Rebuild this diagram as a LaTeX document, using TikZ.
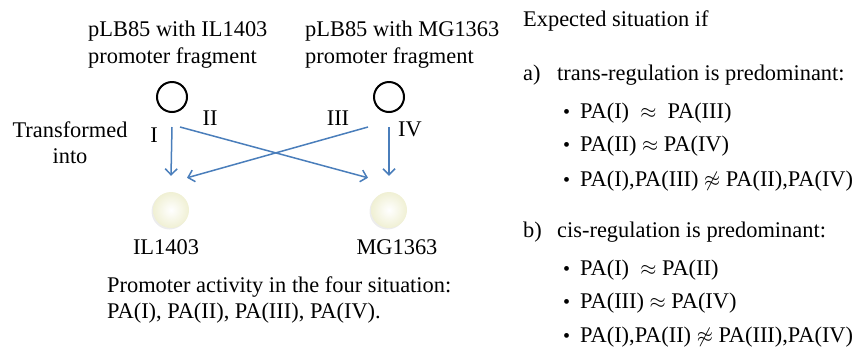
\documentclass[tikz,border=0pt]{standalone}
\usepackage{fontspec}
\setmainfont{Liberation Serif}
\usetikzlibrary{arrows.meta,positioning,shadows}
\definecolor{arrowblue}{RGB}{74,126,187}
\definecolor{cream}{RGB}{240,240,212}
\newcommand{\bul}{\makebox[17pt][l]{\fontsize{20}{20}\selectfont\textbullet}}
\tikzset{
	x=1pt, y=-1pt,% one unit is one pixel of the slide, y runs downwards
	textbox/.style={inner sep=0pt, anchor=base west, font=\fontsize{22.4}{26}\selectfont},
	numlabel/.style={textbox, anchor=base}
}

\begin{document}
\begin{tikzpicture}[
            plasmid/.style={circle, draw, line width=2pt, minimum size=30pt, inner sep=0pt},
            strain/.style={circle, minimum size=36pt, inner sep=0pt,
                inner color=white, outer color=cream,
                drop shadow={shadow xshift=-1.5pt, shadow yshift=-1.5pt, opacity=0.15}},
            blueedge/.style={line width=1.5pt, arrowblue, -{Straight Barb[length=6pt,width=12pt]}}
        ]
            \useasboundingbox (0,0) rectangle (861,349);
            % plasmids and strains
            \node[plasmid] (pIL) at (172,97) {};
            \node[plasmid] (pMG) at (389,97) {};
            \node[strain] (sIL) at (171,210) {};
            \node[strain] (sMG) at (389,210) {};
            \node[textbox] (hIL1) at (88,36) {pLB85 with IL1403};
            \node[textbox] (hIL2) at (88,63) {promoter fragment};
            \node[textbox] (hMG1) at (305,36) {pLB85 with MG1363};
            \node[textbox] (hMG2) at (305,63) {promoter fragment};
            \node[numlabel] (nIL) at (166,254) {IL1403};
            \node[numlabel] (nMG) at (397,254) {MG1363};
            \node[numlabel] (tr1) at (70,137) {Transformed};
            \node[numlabel] (tr2) at (70,163) {into};
            % the four transformations
            \path[blueedge]
                ([yshift=-14pt]pIL.south) edge ([yshift=16pt]sIL.north)
                ([xshift=8pt,yshift=-14pt]pIL.south) edge ([xshift=-21pt,yshift=14pt]sMG.north)
                ([xshift=-21pt,yshift=-14pt]pMG.south) edge ([xshift=16pt,yshift=14pt]sIL.north)
                ([yshift=-14pt]pMG.south) edge ([yshift=16pt]sMG.north);
            \node[numlabel] (lI) at (154,142) {I};
            \node[numlabel] (lII) at (210,125) {II};
            \node[numlabel] (lIII) at (338,125) {III};
            \node[numlabel] (lIV) at (410,136) {IV};
            \node[textbox] (pa1) at (107,292) {Promoter activity in the four situation:};
            \node[textbox] (pa2) at (107,318) {PA(I), PA(II), PA(III), PA(IV).};
            % expected situations
            \node[textbox] (exp) at (523,26) {Expected situation if};
            \node[textbox] (ca) at (523,80) {a)};
            \node[textbox] (ta) at (557,80) {trans-regulation is predominant:};
            \node[textbox] (a1) at (563,118) {\bul PA(I) \ $\approx$\ \ PA(III)};
            \node[textbox] (a2) at (563,151) {\bul PA(II) $\approx$\ PA(IV)};
            \node[textbox] (a3) at (563,186) {\bul PA(I),PA(III) $\not\approx$ PA(II),PA(IV)};
            \node[textbox] (cb) at (523,237) {b)};
            \node[textbox] (tb) at (557,237) {cis-regulation is predominant:};
            \node[textbox] (b1) at (563,275) {\bul PA(I) \ $\approx$ PA(II)};
            \node[textbox] (b2) at (563,308) {\bul PA(III) $\approx$\ PA(IV)};
            \node[textbox] (b3) at (563,342) {\bul PA(I),PA(II) $\not\approx$ PA(III),PA(IV)};
        \end{tikzpicture}
\end{document}
